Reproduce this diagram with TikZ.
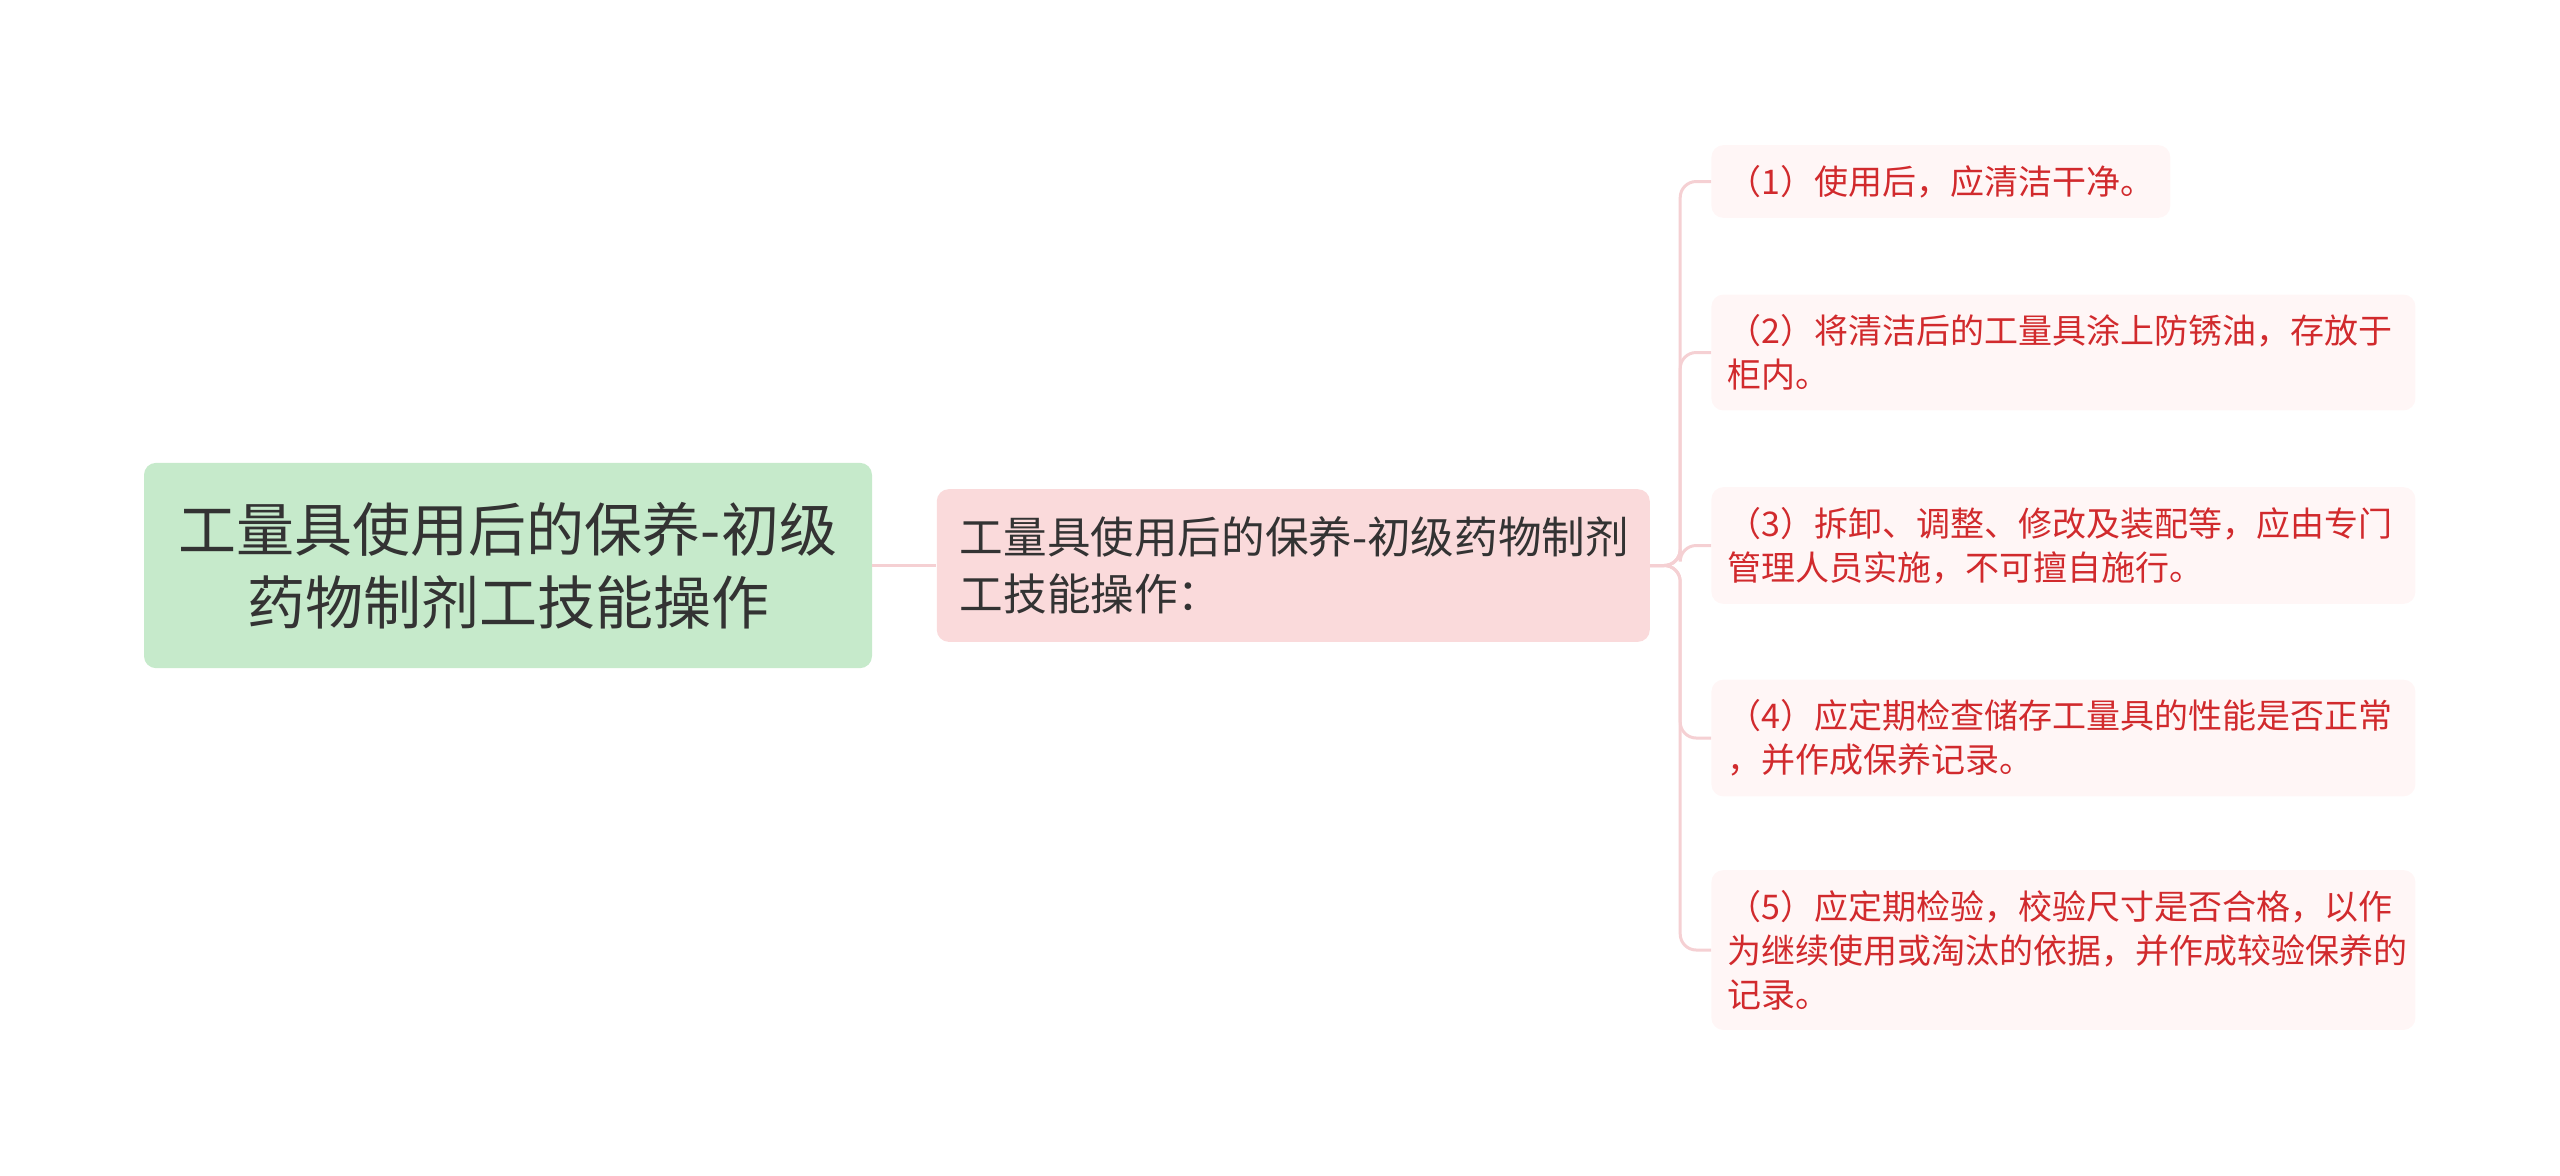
\documentclass[tikz,border=0pt]{standalone}
\usepackage{fontspec}
\setmainfont{Noto Sans CJK SC}
\usetikzlibrary{positioning}
\definecolor{rootfill}{HTML}{C6EACB}
\definecolor{topicfill}{HTML}{FADADB}
\definecolor{leaffill}{HTML}{FFF6F6}
\definecolor{leaftext}{HTML}{D12A2D}
\definecolor{branchline}{HTML}{F5D0D3}
\definecolor{darktext}{HTML}{333333}
\begin{document}
\begin{tikzpicture}[x=0.5pt, y=-0.5pt,
    root/.style = {fill=rootfill, rounded corners=6pt, text=darktext, align=center,
      font=\fontsize{29}{36.7}\selectfont, minimum width=364pt, inner ysep=19.5pt},
    topic/.style = {fill=topicfill, rounded corners=6pt, text=darktext, align=left,
      font=\fontsize{21.8}{28.5}\selectfont, text width=333.5pt, inner xsep=11.5pt, inner ysep=13.8pt},
    leaf/.style = {fill=leaffill, rounded corners=6pt, text=leaftext, align=left, anchor=west,
      font=\fontsize{17}{22}\selectfont, inner xsep=8pt, inner ysep=10pt},
    wide/.style = {text width=336pt},
    branch/.style = {draw=branchline, line width=1.5pt, rounded corners=8pt}]
  \useasboundingbox (0,0) rectangle (2560,1175);
  \node[root] (0) at (508,565.5) {工量具使用后的保养-初级\\药物制剂工技能操作};
  \node[topic, right=32pt of 0] (1) {\mbox{工量具使用后的保养-初级药物制剂}\\工技能操作：};
  \node[leaf] (2) at (1711,181.5) {（1）使用后，应清洁干净。};
  \node[leaf, wide] (3) at (1711,352.5) {（2）将清洁后的工量具涂上防锈油，存放于\\柜内。};
  \node[leaf, wide] (4) at (1711,545.5) {（3）拆卸、调整、修改及装配等，应由专门\\管理人员实施，不可擅自施行。};
  \node[leaf, wide] (5) at (1711,738) {（4）应定期检查储存工量具的性能是否正常\\，并作成保养记录。};
  \node[leaf, wide] (6) at (1711,950) {（5）应定期检验，校验尺寸是否合格，以作\\为继续使用或淘汰的依据，并作成较验保养的\\记录。};
  %
  \draw[branch] (0) -- (1);
  \foreach \n in {2,...,6}
    \draw[branch] (1.east) -- ++(15pt,0) |- (\n.west);
\end{tikzpicture}
\end{document}
